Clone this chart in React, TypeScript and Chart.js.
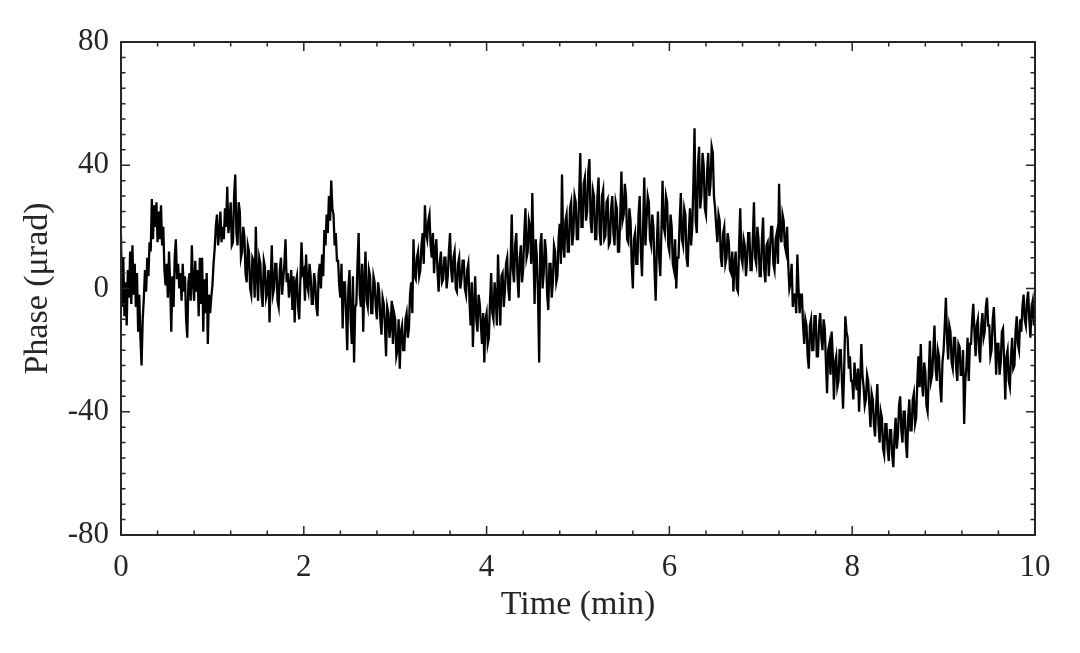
import { useEffect, useRef } from "react";
import { Chart, registerables, Plugin } from "chart.js";

Chart.register(...registerables);

// sampling interval of the trace, minutes
const STEP_MIN = 0.0125;

// phase readings (µrad), one every STEP_MIN from 0 to 10 min (10 per row = 0.125 min)
const PHASE_URAD = [
  17, -6, 10, -9, 2, -12, 6, -3, 12, -5,
  14, -2, 8, -6, 5, -14, -2, -16, -25, -10,
  -3, 6, -1, 10, 4, 15, 12, 29, 16, 27,
  20, 28, 15, 25, 16, 27, 14, 20, 6, 1,
  8, -3, 12, 2, -14, 4, -6, 10, 16, 3,
  8, 0, 5, -4, 8, -1, 4, -10, -16, 2,
  5, -4, 14, 2, -4, 9, -1, 6, -9, 10,
  -5, 10, -14, 3, -8, 5, -18, -2, -8, -3,
  1, 8, 13, 20, 24, 14, 18, 25, 15, 20,
  16, 26, 20, 33, 18, 22, 28, 14, 15, 30,
  37, 18, 14, 28, 25, 10, 12, 20, 17, 5,
  2, 14, 12, 0, -2, 10, 9, -3, 20, 4,
  -4, 10, 8, -2, -6, 9, 7, -3, -1, 6,
  -11, 3, 14, -2, 0, 8, 8, -4, -6, 6,
  10, -2, 3, 8, 16, 2, 5, -3, 1, 6,
  -7, 4, -11, 2, 4, -6, -10, 3, 15, 5,
  6, -4, 11, 1, -1, 8, 4, -5, -5, 5,
  2, -6, -9, 5, 8, 0, 11, 4, 19, 14,
  24, 18, 30, 22, 35, 26, 24, 14, 18, 9,
  9, 1, -3, 8, -13, 2, 2, -8, -20, 0,
  6, -10, -18, 4, -24, -6, -5, 8, 18, -2,
  -6, 8, -14, 2, 12, -4, -6, 6, 4, -8,
  -8, 4, 2, -6, -10, 2, -1, -10, -15, -3,
  -5, -12, -22, -6, -8, -16, -12, -4, -18, -8,
  -10, -22, -20, -10, -26, -14, -12, -20, -20, -10,
  -8, -16, -13, -2, 2, -8, 16, 4, 3, 10,
  12, 4, 6, 14, 18, 8, 27, 18, 16, 22,
  24, 14, 10, 18, 5, 12, 16, 6, -1, 8,
  12, 2, 3, 10, 10, 0, 4, 12, 18, 6,
  2, 10, 12, 0, -1, 8, 10, 0, 3, 9,
  9, 0, -2, 6, 8, -4, -12, 2, -19, -6,
  4, -10, -14, -2, -5, -12, -18, -8, -24, -10,
  -8, -18, -16, -4, 5, -8, -10, 2, -3, -12,
  11, -2, -12, 4, 5, -6, -1, 8, 10, 0,
  -4, 8, 24, 6, 2, 14, 18, 4, -3, 10,
  14, 2, 6, 18, 26, 10, 12, 22, 20, 8,
  31, 12, -5, 16, 10, -2, -24, 14, 18, 0,
  5, 16, 12, -2, -7, 8, 8, -3, 2, 14,
  12, 2, 4, 16, 21, 8, 37, 14, 10, 22,
  24, 12, 12, 26, 28, 14, 18, 30, 28, 16,
  16, 30, 44, 20, 20, 34, 36, 22, 25, 38,
  42, 22, 18, 32, 30, 16, 16, 30, 36, 18,
  14, 30, 32, 16, 17, 28, 29, 14, 15, 26,
  30, 18, 14, 28, 26, 12, 12, 24, 38, 22,
  24, 34, 30, 16, 15, 26, 22, 8, 0, 16,
  18, 8, 8, 24, 30, 12, 4, 20, 36, 14,
  22, 30, 28, 16, 14, 24, 20, 6, -4, 14,
  25, 10, 4, 18, 35, 20, 18, 30, 28, 14,
  12, 24, 20, 8, 6, 16, 0, 10, 10, 22,
  31, 16, 14, 26, 24, 10, 7, 18, 26, 14,
  20, 34, 52, 22, 18, 40, 46, 26, 30, 44,
  40, 26, 24, 38, 44, 30, 34, 46, 44, 30,
  26, 20, 15, 24, 22, 10, 7, 18, 20, 8,
  10, 18, 15, 6, 5, 12, -1, 8, 12, 0,
  -1, 14, 26, 10, 8, 16, 14, 4, 9, 18,
  18, 6, 6, 16, 28, 10, 8, 20, 16, 4,
  4, 16, 23, 6, 2, 14, 15, 4, 12, 20,
  20, 8, 6, 16, 18, 8, 34, 18, 15, 24,
  22, 14, 12, 20, 8, 0, 2, 8, -6, -2,
  -2, -8, 11, 0, -8, -2, -2, -12, -18, -10,
  -12, -22, -26, -12, -10, -20, -20, -9, -9, -22,
  -22, -12, -8, -16, -20, -10, -13, -24, -34, -20,
  -18, -28, -14, -22, -36, -24, -22, -32, -30, -20,
  -20, -30, -39, -26, -9, -14, -16, -26, -22, -30,
  -30, -36, -24, -30, -33, -26, -40, -30, -18, -28,
  -32, -38, -36, -28, -30, -38, -45, -34, -36, -44,
  -48, -38, -31, -44, -50, -40, -42, -52, -54, -44,
  -44, -52, -56, -46, -46, -54, -58, -48, -42, -52,
  -48, -38, -35, -46, -50, -40, -40, -50, -55, -42,
  -36, -46, -46, -36, -34, -44, -42, -30, -22, -32,
  -18, -30, -35, -24, -27, -38, -40, -28, -17, -30,
  -28, -20, -12, -26, -30, -20, -22, -32, -37, -24,
  -20, -12, -3, -16, -23, -12, -14, -24, -26, -16,
  -16, -26, -30, -18, -19, -28, -28, -20, -44, -30,
  -25, -16, -30, -18, -18, -10, -5, -14, -22, -12,
  -10, -20, -24, -12, -8, -16, -14, -6, -3, -12,
  -12, -22, -20, -10, -6, -16, -28, -18, -18, -28,
  -24, -14, -13, -24, -36, -22, -20, -30, -32, -22,
  -16, -26, -25, -14, -9, -18, -20, -10, -14, -6,
  -2, -10, -12, -4, -1, -10, -16, -6, -4, -12, -8,
];

const X_TICKS = [0, 2, 4, 6, 8, 10];
const Y_TICKS = [-80, -40, 0, 40, 80];
const X_MINOR_STEP = 0.4;
const Y_MINOR_STEP = 5;

const INK = "#262626";
const SERIF = '"Liberation Serif", "Times New Roman", serif';

// values between the major ticks, spaced by step
function minorValues(majors: number[], step: number) {
  const out: number[] = [];
  for (let i = 0; i < majors.length - 1; i++) {
    const n = Math.round((majors[i + 1] - majors[i]) / step);
    for (let k = 1; k < n; k++) out.push(majors[i] + k * step);
  }
  return out;
}

// matlab-like box with inward ticks on all four sides
const boxTicks: Plugin<"line"> = {
  id: "boxTicks",
  afterDatasetsDraw(chart) {
    const { ctx, chartArea: a, scales } = chart;
    const xs = scales.x;
    const ys = scales.y;
    ctx.save();
    ctx.strokeStyle = INK;
    ctx.lineWidth = 1.5;
    ctx.beginPath();
    const xTick = (v: number, len: number) => {
      const px = xs.getPixelForValue(v);
      ctx.moveTo(px, a.bottom);
      ctx.lineTo(px, a.bottom - len);
      ctx.moveTo(px, a.top);
      ctx.lineTo(px, a.top + len);
    };
    const yTick = (v: number, len: number) => {
      const py = ys.getPixelForValue(v);
      ctx.moveTo(a.left, py);
      ctx.lineTo(a.left + len, py);
      ctx.moveTo(a.right, py);
      ctx.lineTo(a.right - len, py);
    };
    X_TICKS.forEach((v) => xTick(v, 9));
    minorValues(X_TICKS, X_MINOR_STEP).forEach((v) => xTick(v, 4.5));
    Y_TICKS.forEach((v) => yTick(v, 9));
    minorValues(Y_TICKS, Y_MINOR_STEP).forEach((v) => yTick(v, 4.5));
    ctx.stroke();
    ctx.lineWidth = 2;
    ctx.strokeRect(a.left, a.top, a.right - a.left, a.bottom - a.top);
    ctx.restore();
  },
};

export default function App() {
  const canvasRef = useRef<HTMLCanvasElement | null>(null);

  useEffect(() => {
    if (!canvasRef.current) return;

    const chart = new Chart(canvasRef.current, {
      type: "line",
      data: {
        datasets: [
          {
            label: "Phase",
            data: PHASE_URAD.map((v, i) => ({ x: i * STEP_MIN, y: v })),
            borderColor: "#000",
            borderWidth: 2.3,
            pointRadius: 0,
            tension: 0,
          },
        ],
      },
      options: {
        animation: false,
        responsive: true,
        maintainAspectRatio: false,
        layout: { padding: { top: 42, right: 45, bottom: 0, left: 0 } },
        plugins: {
          legend: { display: false },
          tooltip: { enabled: false },
        },
        scales: {
          x: {
            type: "linear",
            min: 0,
            max: 10,
            afterBuildTicks: (s) => {
              s.ticks = X_TICKS.map((value) => ({ value }));
            },
            afterFit: (s) => {
              s.height = 118;
            },
            grid: { display: false, drawTicks: false },
            border: { display: false },
            ticks: {
              color: INK,
              font: { family: SERIF, size: 31 },
              padding: 14,
              maxRotation: 0,
              autoSkip: false,
            },
            title: {
              display: true,
              text: "Time (min)",
              color: INK,
              font: { family: SERIF, size: 34 },
              padding: { top: 0, bottom: 28 },
            },
          },
          y: {
            min: -80,
            max: 80,
            afterBuildTicks: (s) => {
              s.ticks = Y_TICKS.map((value) => ({ value }));
            },
            afterFit: (s) => {
              s.width = 121;
            },
            grid: { display: false, drawTicks: false },
            border: { display: false },
            ticks: {
              color: INK,
              font: { family: SERIF, size: 31 },
              padding: 12,
              autoSkip: false,
            },
            title: {
              display: true,
              text: "Phase (μrad)",
              color: INK,
              font: { family: SERIF, size: 34 },
              padding: { top: 18, bottom: 0 },
            },
          },
        },
      },
      plugins: [boxTicks],
    });

    return () => chart.destroy();
  }, []);

  return (
    <div
      style={{
        position: "fixed",
        left: 0,
        top: 0,
        width: 1080,
        height: 653,
        background: "#fff",
      }}
    >
      <canvas ref={canvasRef} />
    </div>
  );
}
